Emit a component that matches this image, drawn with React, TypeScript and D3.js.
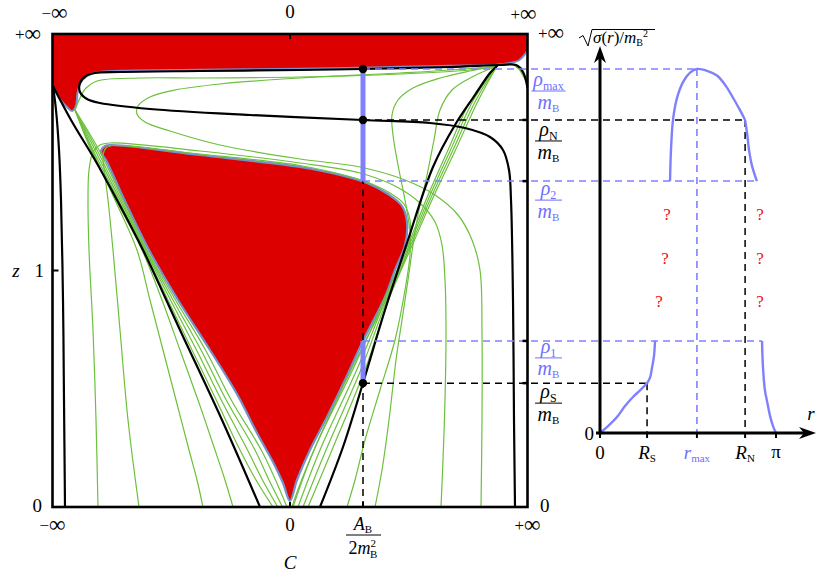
import * as d3 from "d3";

type Pt = [number, number];

// left panel: compactified C (−∞..+∞ → −95..95) and z (0..+∞ → 0..189.2)
const C_INF = 95;
const Z_INF = 189.2;
const Z_ONE = 94.6;
const A_B = 29.2; // A_B / 2m_B^2 on the C axis

// regions where sigma is not defined
const topRed: Pt[] = [[-95, 189.2], [95, 189.2], [95, 182.8], [93.5, 180.5], [91.5, 178.6], [88, 177.6], [82.8, 176.9], [64, 176.5], [44, 176.1], [28, 175.7], [4, 175.3], [-36, 174.9], [-68, 174.5], [-77.5, 173.8], [-81.5, 172.2], [-83.8, 169.6], [-85, 165.6], [-85.6, 160.5], [-87.2, 158.4], [-89.2, 160], [-92, 163.2], [-94, 166.8], [-95, 169.2]];
const coreRed: Pt[] = [[-74, 144.4], [-71.2, 144.8], [-36, 140.8], [4, 136], [20, 132.8], [30.8, 129.6], [39.2, 125.2], [44.8, 120.4], [46.8, 114], [46, 104.8], [42, 94.8], [38, 84], [28.8, 65.6], [22, 50.8], [14.8, 36], [8, 22.8], [2.8, 10.8], [0, 2.4], [-2.8, 9.6], [-6.8, 18], [-13.2, 29.6], [-21, 44.8], [-32, 62.8], [-44.8, 82.8], [-56.4, 102.8], [-66.2, 122.8], [-73.6, 138.8], [-75.6, 142]];

// black separatrices
const blackN: Pt[] = [[95, 167.6], [93.2, 174], [90.4, 176.8], [84, 176.8], [64, 176], [29.2, 175.2], [4, 174.8], [-36, 174.4], [-68, 174], [-78, 173.6], [-81.6, 172.4], [-84, 169.6], [-84, 166], [-81.2, 163.2], [-76, 161.6], [-56, 159.2], [-16, 156.8], [29.2, 154.8], [56, 153.6], [70, 151.6], [80, 148], [85.2, 142.8], [87.6, 134.8], [88.4, 122.8], [89.2, 82.8], [89.6, 34.8], [90, 0]];
const blackLeftV: Pt[] = [[-94.8, 168.4], [-93.6, 158.8], [-92.4, 142.8], [-91.6, 122.8], [-90.8, 82.8], [-90.4, 42.8], [-90, 0]];
const blackLeftD: Pt[] = [[-94.8, 168.4], [-87.6, 154.8], [-78, 138.8], [-69.2, 122.8], [-58.8, 102.8], [-44, 70.8], [-27.2, 34.8], [-12, 0]];
const blackRightD: Pt[] = [[12, 0], [21.2, 24], [29.2, 49.6], [38, 78.8], [46.8, 105.6], [57.2, 136], [66, 152.8], [74, 164.8], [80, 173.6], [83.2, 176.8]];

// green trajectories
const gLoop: Pt[] = [[-86, 158.8], [-84, 163.6], [-81.6, 167.6], [-77.2, 170.4], [-60, 171.6], [-36, 171.6], [4, 172], [44, 173.2], [72, 174.8], [82.8, 176.4]];
const gArcLeft: Pt[] = [[82.8, 176.4], [64, 174.8], [44, 173.6], [4, 171.6], [-28, 169.2], [-46, 166.8], [-56, 164], [-60.8, 160.4], [-61.2, 157.2], [-58, 154], [-48, 150.4], [-28, 144.8], [4, 139.2], [28, 136], [46, 130.8], [58, 124.8], [67.2, 116.8], [72.8, 106.8], [76, 94.8], [76.8, 69.6], [76.8, 34.8], [76.4, 0]];
const gWrap1: Pt[] = [[-76.8, 0], [-77.6, 34.8], [-78.8, 70.8], [-80.4, 102.8], [-80.8, 122.8], [-80.4, 134.8], [-78.8, 142], [-76, 144.8], [-72, 145.6], [-36, 142.4], [4, 137.6], [28, 133.6], [42, 128.4], [52, 121.6], [58, 114], [60.8, 104.8], [62, 90.8], [62.4, 70.8], [62, 42.8], [61.2, 18.8], [60.4, 0]];
const gWrap2: Pt[] = [[-60.4, 0], [-64.8, 34.8], [-68, 70.8], [-70.8, 102.8], [-72.8, 122.8], [-74.4, 135.6], [-74.8, 140.8], [-73.6, 143.6], [-70.4, 144.6], [-36, 141.2], [4, 136.6], [20, 133.2], [30.8, 130], [40, 125.6], [45.6, 121.2], [48, 114.8], [48, 106.8], [45.6, 98], [40.8, 87.6], [32.8, 71.6], [24.8, 55.6], [17.2, 39.6], [10.8, 25.6], [5.6, 13.2], [2.4, 4.8], [0.8, 0]];
const gFanA: Pt[] = [[82.8, 176.4], [72, 174.4], [60, 171.6], [49.2, 167.6], [43.2, 162.8], [40.8, 156.8], [41.2, 148.8], [43.2, 136.8], [46, 122.8], [48, 110], [48, 100.8], [46, 86.8], [42, 66.8], [36, 46.8], [30, 26.8], [26, 10.8], [22.8, 0]];
const gFanB: Pt[] = [[82.8, 176.4], [72.8, 172], [64.8, 166.8], [60, 158.8], [57.6, 146.8], [54.4, 130.8], [51.2, 116.8], [49.2, 104.8], [47.2, 90.8], [44.8, 74.8], [42.4, 58.8], [39.6, 34.8], [36.8, 14.8], [34, 0]];
const gRight0: Pt[] = [[82.8, 176.4], [72.4, 162.8], [63.2, 142.8], [54.4, 122.8], [48, 106.8], [37.6, 82.8], [25.6, 56], [9.6, 22.8], [1.2, 0]];
const gRight1: Pt[] = [[82.8, 176.4], [73.4, 162.8], [64.2, 142.8], [55.2, 122.8], [48.6, 106.8], [38.2, 82.8], [27.2, 56], [12, 22.8], [3.2, 0]];
const gRight2: Pt[] = [[82.8, 176.4], [74.4, 162.8], [65.2, 142.8], [56, 122.8], [49.2, 106.8], [38.8, 82.8], [28.8, 56], [14.4, 22.8], [5.2, 0]];
const gRight3: Pt[] = [[82.8, 176.4], [75.4, 162.8], [66.2, 142.8], [56.8, 122.8], [49.8, 106.8], [39.4, 82.8], [30.4, 56], [16.8, 22.8], [7.2, 0]];
const gLeft0: Pt[] = [[-86, 158.8], [-78.8, 142.8], [-68.6, 122.8], [-58.4, 102.8], [-48.8, 82.8], [-39.2, 62.8], [-29.5, 42.8], [-20, 22.8], [-13.6, 10.8], [-6.8, 0]];
const gLeft1: Pt[] = [[-86, 158.8], [-78, 142.8], [-68, 122.8], [-58, 102.8], [-47.8, 82.8], [-37.4, 62.8], [-27.5, 42.8], [-17, 22.8], [-11, 10.8], [-4.9, 0]];
const gLeft2: Pt[] = [[-86, 158.8], [-77.2, 142.8], [-67.4, 122.8], [-57.6, 102.8], [-46.8, 82.8], [-35.6, 62.8], [-25.5, 42.8], [-14, 22.8], [-8.4, 10.8], [-3, 0]];
const gLeft3: Pt[] = [[-86, 158.8], [-76.4, 142.8], [-66.8, 122.8], [-57.2, 102.8], [-45.8, 82.8], [-33.8, 62.8], [-23.5, 42.8], [-11.5, 22.8], [-5.8, 10.8], [-1.2, 0]];
const gLeftA: Pt[] = [[-86, 158.8], [-79.2, 142.8], [-70, 122.8], [-61.2, 102.8], [-56, 82.8], [-50.8, 62.8], [-45.6, 42.8], [-40.4, 22.8], [-37.2, 10.8], [-34.8, 0]];
const gLeftB: Pt[] = [[-86, 158.8], [-79.6, 142.8], [-69.6, 122.8], [-59.2, 102.8], [-51.2, 82.8], [-44, 62.8], [-36.8, 42.8], [-30, 22.8], [-26, 10.8], [-22.8, 0]];
const gPatch: Pt[] = [[88.8, 177.2], [92.8, 176], [94.4, 170], [91.6, 174.8]];

const greens = [gLoop, gArcLeft, gWrap1, gWrap2, gFanA, gFanB, gRight0, gRight1, gRight2, gRight3, gLeft0, gLeft1, gLeft2, gLeft3, gLeftA, gLeftB];

// right panel: sqrt(sigma(r))/m_B^2 against r, in units of rho_max/m_B
const R_S = 0.84;
const R_MAX = 1.73;
const R_N = 2.59;
const rhoMax = 1.0;
const rhoN = 0.86;
const rho2 = 0.692;
const rho1 = 0.253;
const rhoS = 0.137;

const sigmaLow: Pt[] = [[0, 0], [0.143, 0.019], [0.303, 0.044], [0.446, 0.074], [0.589, 0.099], [0.714, 0.117], [0.84, 0.137]];
const sigmaRise: Pt[] = [[0.84, 0.137], [0.893, 0.152], [0.928, 0.179], [0.964, 0.212], [0.982, 0.253]];
const sigmaHigh: Pt[] = [[1.25, 0.692], [1.267, 0.777], [1.303, 0.86], [1.374, 0.92], [1.482, 0.964], [1.607, 0.99], [1.73, 1.0], [1.91, 0.995], [2.088, 0.982], [2.249, 0.953], [2.374, 0.921], [2.499, 0.887], [2.59, 0.86]];
const sigmaTail: Pt[] = [[2.59, 0.86], [2.63, 0.818], [2.66, 0.777], [2.71, 0.736], [2.8, 0.692]];
const sigmaEdge: Pt[] = [[2.892, 0.253], [2.91, 0.179], [2.945, 0.116], [2.981, 0.088], [3.035, 0.047], [3.088, 0.019], [Math.PI, 0]];
const unknownR = [1.196, 1.16, 1.053, 2.856, 2.856, 2.856];
const unknownS = [0.603, 0.482, 0.364, 0.603, 0.482, 0.364];

const BLUE = "#8080ff";
const BLUE_TXT = "#6e6eff";
const GREEN = "#6cc03c";
const RED = "#dd0000";
const EDGE = "#7592c8";
const serif = "'Liberation Serif', 'DejaVu Serif', serif";
const txt = { fontFamily: serif };

// sign followed by a wide infinity, like the TeX glyph
function Inf({ x, y, sign, anchor = "middle" }: { x: number; y: number; sign: string; anchor?: string }) {
  return (
    <text x={x} y={y} textAnchor={anchor} fontSize={17} style={txt}>
      {sign}
      <tspan fontSize={23} dy={1}>∞</tspan>
    </text>
  );
}

function Frac({ cx, bar, w, color, sym, sub, gap = 18 }: { cx: number; bar: number; w: number; color: string; sym: string; sub: string; gap?: number }) {
  return (
    <g fill={color} style={txt}>
      <text x={cx} y={bar - 5} textAnchor="middle" fontSize={20}>
        <tspan fontStyle="italic">{sym}</tspan>
        <tspan fontSize={12} dy={4}>{sub}</tspan>
      </text>
      <line x1={cx - w / 2} x2={cx + w / 2} y1={bar} y2={bar} stroke={color} strokeWidth={1} />
      <text x={cx} y={bar + gap} textAnchor="middle" fontSize={20}>
        <tspan fontStyle="italic">m</tspan>
        <tspan fontSize={11} dy={3}>B</tspan>
      </text>
    </g>
  );
}

export default function App() {
  const xC = d3.scaleLinear().domain([-C_INF, C_INF]).range([52.5, 527.5]);
  const zS = d3.scaleLinear().domain([0, Z_INF]).range([507, 34]);
  const rS = d3.scaleLinear().domain([0, Math.PI]).range([600, 776]);
  const sS = d3.scaleLinear().domain([0, 1]).range([433, 69]);

  const curve = d3.line<Pt>().x((d) => xC(d[0])).y((d) => zS(d[1])).curve(d3.curveCatmullRom.alpha(0.5));
  const blob = d3.line<Pt>().x((d) => xC(d[0])).y((d) => zS(d[1])).curve(d3.curveCatmullRomClosed.alpha(0.5));
  const sig = d3.line<Pt>().x((d) => rS(d[0])).y((d) => sS(d[1])).curve(d3.curveCatmullRom.alpha(0.5));

  const xA = xC(A_B);
  const x0 = rS(0);
  const y0 = sS(0);

  // horizontal dashed guides: level, end r, colour
  const guides: [number, number, string][] = [
    [rhoMax, R_MAX, BLUE],
    [rhoN, R_N, "#000"],
    [rho2, 2.8, BLUE],
    [rho1, 2.892, BLUE],
    [rhoS, R_S, "#000"],
  ];
  const dash = "7 5";

  return (
    <svg width={830} height={577} style={{ position: "absolute", left: 0, top: 0, background: "#fff" }}>
      <defs>
        <clipPath id="frame">
          <rect x={xC(-C_INF)} y={zS(Z_INF)} width={xC(C_INF) - xC(-C_INF)} height={zS(0) - zS(Z_INF)} />
        </clipPath>
      </defs>

      <g clipPath="url(#frame)">
        <path d={blob(topRed) ?? ""} fill={RED} stroke={EDGE} strokeWidth={2} />
        <path d={blob(coreRed) ?? ""} fill={RED} stroke={EDGE} strokeWidth={2.2} />
        <path d={d3.line<Pt>().x((d) => xC(d[0])).y((d) => zS(d[1]))(gPatch) ?? ""} fill={GREEN} />
        {greens.map((g, i) => (
          <path key={i} d={curve(g) ?? ""} fill="none" stroke={GREEN} strokeWidth={1.2} />
        ))}
        {[blackN, blackLeftV, blackLeftD, blackRightD].map((b, i) => (
          <path key={i} d={curve(b) ?? ""} fill="none" stroke="#000" strokeWidth={2.2} />
        ))}
      </g>

      {/* dashed guides */}
      <line x1={xA} x2={xA} y1={sS(rhoMax)} y2={zS(0)} stroke="#000" strokeWidth={1.5} strokeDasharray={dash} />
      {guides.map(([lv, re, col], i) => (
        <line key={i} x1={xA} x2={rS(re)} y1={sS(lv)} y2={sS(lv)} stroke={col} strokeWidth={1.5} strokeDasharray={dash} />
      ))}
      <line x1={rS(R_MAX)} x2={rS(R_MAX)} y1={sS(rhoMax)} y2={y0} stroke={BLUE} strokeWidth={1.6} strokeDasharray={dash} />
      <line x1={rS(R_N)} x2={rS(R_N)} y1={sS(rhoN)} y2={y0} stroke="#000" strokeWidth={1.5} strokeDasharray={dash} />
      <line x1={rS(R_S)} x2={rS(R_S)} y1={sS(rhoS)} y2={y0} stroke="#000" strokeWidth={1.5} strokeDasharray={dash} />

      {/* range of sigma at C = A_B/2m_B^2 */}
      <line x1={xA} x2={xA} y1={sS(rhoMax)} y2={sS(rho2)} stroke={BLUE} strokeWidth={5} />
      <line x1={xA} x2={xA} y1={sS(rho1)} y2={sS(rhoS)} stroke={BLUE} strokeWidth={5} />
      {[rhoMax, rhoN, rhoS].map((lv) => (
        <circle key={lv} cx={xA} cy={sS(lv)} r={4.2} fill="#000" />
      ))}

      {/* frame */}
      <rect x={xC(-C_INF)} y={zS(Z_INF)} width={xC(C_INF) - xC(-C_INF)} height={zS(0) - zS(Z_INF)} fill="none" stroke="#000" strokeWidth={2.6} />
      <line x1={xC(0)} x2={xC(0)} y1={zS(Z_INF)} y2={zS(Z_INF) + 5} stroke="#000" strokeWidth={2} />
      <line x1={xC(0)} x2={xC(0)} y1={zS(0)} y2={zS(0) - 5} stroke="#000" strokeWidth={2} />
      <line x1={xA} x2={xA} y1={zS(0)} y2={zS(0) - 5} stroke="#000" strokeWidth={2} />
      <line x1={xC(-C_INF)} x2={xC(-C_INF) + 6} y1={zS(Z_ONE)} y2={zS(Z_ONE)} stroke="#000" strokeWidth={2} />
      {[rhoN, rho2, rho1, rhoS].map((lv) => (
        <line key={lv} x1={xC(C_INF) - 5} x2={xC(C_INF)} y1={sS(lv)} y2={sS(lv)} stroke="#000" strokeWidth={2.5} />
      ))}

      {/* left panel labels */}
      <Inf x={xC(-C_INF) + 2} y={19} sign="−" />
      <Inf x={xC(C_INF) - 4} y={20} sign="+" />
      <Inf x={41} y={40} sign="+" anchor="end" />
      <Inf x={538} y={39} sign="+" anchor="start" />
      <Inf x={xC(-C_INF)} y={531} sign="−" />
      <Inf x={xC(C_INF)} y={531} sign="+" />
      <g fontSize={19} fill="#000" style={txt}>
        <text x={xC(0)} y={18} textAnchor="middle">0</text>
        <text x={44} y={zS(Z_ONE) + 6} textAnchor="end">1</text>
        <text x={16} y={zS(Z_ONE) + 6} textAnchor="middle" fontStyle="italic">z</text>
        <text x={42} y={zS(0) + 5} textAnchor="end">0</text>
        <text x={540} y={zS(0) + 5}>0</text>
        <text x={xC(0)} y={531} textAnchor="middle">0</text>
        <text x={xC(0)} y={569} textAnchor="middle" fontStyle="italic">C</text>
        <text x={xA} y={530} textAnchor="middle" fontSize={18}>
          <tspan fontStyle="italic">A</tspan>
          <tspan fontSize={11} dy={3}>B</tspan>
        </text>
        <line x1={xA - 17} x2={xA + 18} y1={535} y2={535} stroke="#000" strokeWidth={1} />
        <text x={xA} y={554} textAnchor="middle" fontSize={18}>
          <tspan>2</tspan>
          <tspan fontStyle="italic">m</tspan>
          <tspan fontSize={11} dy={-7}>2</tspan>
          <tspan fontSize={11} dx={-6} dy={11}>B</tspan>
        </text>
      </g>

      <Frac cx={548.5} bar={sS(rhoMax) + 22} w={34} color={BLUE_TXT} sym="ρ" sub="max" />
      <Frac cx={548.5} bar={sS(rhoN) + 21} w={27} color="#000" sym="ρ" sub="N" />
      <Frac cx={548.5} bar={sS(rho2) + 19} w={27} color={BLUE_TXT} sym="ρ" sub="2" />
      <Frac cx={548.5} bar={sS(rho1) + 17} w={27} color={BLUE_TXT} sym="ρ" sub="1" gap={17} />
      <Frac cx={548.5} bar={sS(rhoS) + 20} w={27} color="#000" sym="ρ" sub="S" />

      {/* right panel curves */}
      {[sigmaLow, sigmaRise, sigmaHigh, sigmaTail, sigmaEdge].map((s, i) => (
        <path key={i} d={sig(s) ?? ""} fill="none" stroke={BLUE} strokeWidth={2.4} />
      ))}
      {unknownR.map((r, i) => (
        <text key={i} x={rS(r)} y={sS(unknownS[i]) + 6} textAnchor="middle" fontSize={17} fill="#ee1111" style={txt}>?</text>
      ))}

      {/* right panel axes */}
      <line x1={x0} x2={x0} y1={y0 + 1.5} y2={58} stroke="#000" strokeWidth={3} />
      <path d={`M${x0},46 L${x0 - 6},63 L${x0},58 L${x0 + 6},63 Z`} fill="#000" />
      <line x1={x0 - 4} x2={806} y1={y0} y2={y0} stroke="#000" strokeWidth={3} />
      <path d={`M816,${y0} L799,${y0 - 6} L804,${y0} L799,${y0 + 6} Z`} fill="#000" />
      {[0, R_S, R_MAX, R_N, Math.PI].map((r) => (
        <line key={r} x1={rS(r)} x2={rS(r)} y1={y0 - 1} y2={y0 + 5} stroke="#000" strokeWidth={2} />
      ))}
      <g fontSize={19} fill="#000" style={txt}>
        <text x={x0 - 6} y={y0 + 7} textAnchor="end">0</text>
        <text x={rS(0)} y={y0 + 26} textAnchor="middle">0</text>
        <text x={rS(R_S)} y={y0 + 26} textAnchor="middle">
          <tspan fontStyle="italic">R</tspan>
          <tspan fontSize={11} dy={3}>S</tspan>
        </text>
        <text x={rS(R_MAX)} y={y0 + 26} textAnchor="middle" fill={BLUE_TXT}>
          <tspan fontStyle="italic">r</tspan>
          <tspan fontSize={11} dy={3}>max</tspan>
        </text>
        <text x={rS(R_N)} y={y0 + 26} textAnchor="middle">
          <tspan fontStyle="italic">R</tspan>
          <tspan fontSize={11} dy={3}>N</tspan>
        </text>
        <text x={rS(Math.PI)} y={y0 + 25} textAnchor="middle">π</text>
        <text x={811} y={420} textAnchor="middle" fontStyle="italic">r</text>
      </g>
      {/* y-axis title with a drawn radical */}
      <path d="M579,38 L583,35.5 L588,46 L592,29.5 L655,29.5" fill="none" stroke="#000" strokeWidth={1} />
      <text x={593} y={43} fontSize={17} fill="#000" style={txt}>
        <tspan fontStyle="italic">σ</tspan>
        <tspan>(</tspan>
        <tspan fontStyle="italic">r</tspan>
        <tspan>)/</tspan>
        <tspan fontStyle="italic">m</tspan>
        <tspan fontSize={10} dy={3}>B</tspan>
        <tspan fontSize={10} dy={-9}>2</tspan>
      </text>
    </svg>
  );
}
